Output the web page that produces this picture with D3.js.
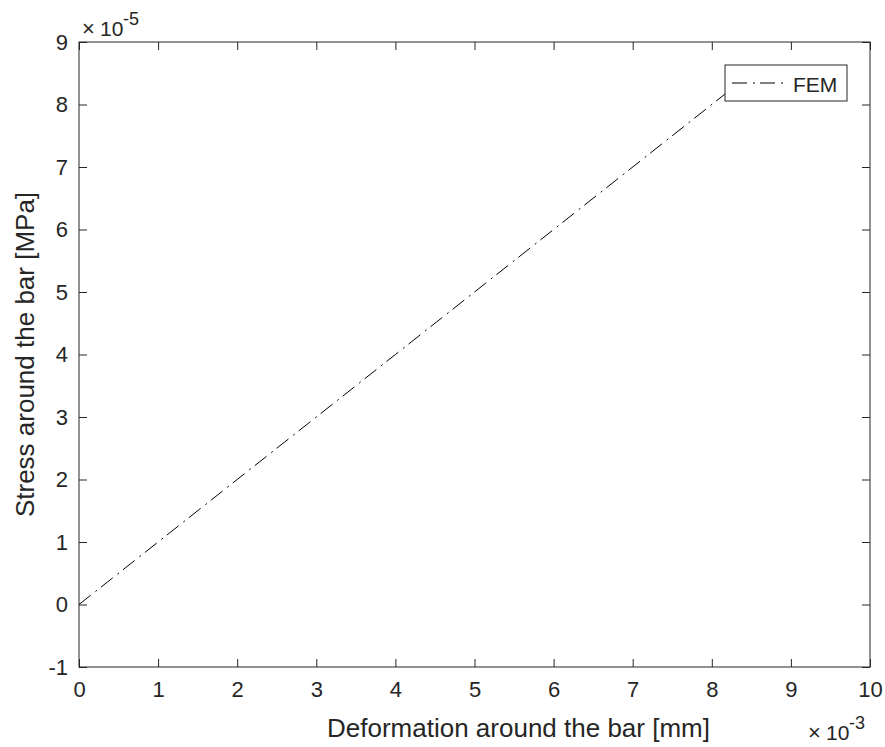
<!DOCTYPE html>
<meta charset="utf-8">
<script src="https://d3js.org/d3.v7.min.js"></script>
<style>
body { margin: 0; background: #fff; }
text { font-family: "Liberation Sans", Arial, sans-serif; fill: #262626; }
</style>
<body>
</body>
<script>
  // FEM result, stress vs deformation
  var deformation = [0, 0.002, 0.004, 0.006, 0.0085];
  var stress = [0, 0.00002, 0.00004, 0.00006, 0.000085];
  var seriesName = "FEM";
  var xTicks = [0, 1, 2, 3, 4, 5, 6, 7, 8, 9, 10];
  var yTicks = [-1, 0, 1, 2, 3, 4, 5, 6, 7, 8, 9];

  var data = deformation.map(function(d, i) { return {x: d * 1e3, y: stress[i] * 1e5}; });

  var W = 885, H = 747;
  var margin = {top: 42, right: 15, bottom: 80, left: 79};
  var width = W - margin.left - margin.right,
      height = H - margin.top - margin.bottom;

  var svg = d3.select("body").append("svg")
      .attr("width", W)
      .attr("height", H);

  var g = svg.append("g")
      .attr("transform", "translate(" + margin.left + "," + margin.top + ")");

  var xScale = d3.scaleLinear().domain([0, 10]).range([0, width]);
  var yScale = d3.scaleLinear().domain([-1, 9]).range([height, 0]);

  var axisColor = "#262626";
  var fmt = function(d) { return String(d); }; // plain hyphen minus like matlab

  // box
  g.append("rect")
    .attr("width", width).attr("height", height)
    .attr("fill", "none").attr("stroke", axisColor).attr("stroke-width", 1);

  var xAxis = d3.axisBottom(xScale).tickValues(xTicks).tickSize(-8).tickPadding(14).tickFormat(fmt);
  var yAxis = d3.axisLeft(yScale).tickValues(yTicks).tickSize(-8).tickPadding(11).tickFormat(fmt);
  var xTop = d3.axisTop(xScale).tickValues(xTicks).tickSize(-8).tickFormat("");
  var yRight = d3.axisRight(yScale).tickValues(yTicks).tickSize(-8).tickFormat("");

  function style(sel) {
    sel.select(".domain").remove();
    sel.selectAll("line").attr("stroke", axisColor);
    sel.selectAll("text").attr("font-size", 22).attr("fill", axisColor)
      .style("font-family", '"Liberation Sans", Arial, sans-serif');
  }

  g.append("g").attr("transform", "translate(0," + height + ")").call(xAxis).call(style);
  g.append("g").call(yAxis).call(style);
  g.append("g").call(xTop).call(style);
  g.append("g").attr("transform", "translate(" + width + ",0)").call(yRight).call(style);

  // line
  var line = d3.line()
    .x(function(d) { return xScale(d.x); })
    .y(function(d) { return yScale(d.y); });

  g.append("path")
    .datum(data)
    .attr("d", line)
    .attr("fill", "none")
    .attr("stroke", "#000")
    .attr("stroke-width", 1)
    .attr("stroke-dasharray", "15,6,2,5");

  // axis labels
  svg.append("text")
    .attr("x", 327)
    .attr("y", 737)
    .attr("font-size", 26)
    .text("Deformation around the bar [mm]");

  svg.append("text")
    .attr("transform", "translate(34," + (margin.top + height / 2) + ") rotate(-90)")
    .attr("text-anchor", "middle")
    .attr("font-size", 26)
    .text("Stress around the bar [MPa]");

  // exponent labels
  function expLabel(x, y, p) {
    svg.append("text").attr("x", x).attr("y", y).attr("font-size", 22).text("\u00d7");
    svg.append("text").attr("x", x + 18).attr("y", y).attr("font-size", 21).text("10");
    svg.append("text").attr("x", x + 41).attr("y", y - 11).attr("font-size", 18).text(p);
  }
  expLabel(82, 36, "-5");
  expLabel(808, 740, "-3");

  // legend
  var lg = g.append("g").attr("transform", "translate(" + (725 - margin.left) + "," + (65 - margin.top) + ")");
  lg.append("rect").attr("width", 122).attr("height", 36)
    .attr("fill", "#fff").attr("stroke", axisColor).attr("stroke-width", 1);
  lg.append("line").attr("x1", 7).attr("x2", 60).attr("y1", 18).attr("y2", 18)
    .attr("stroke", "#000").attr("stroke-width", 1).attr("stroke-dasharray", "15,6,2,5");
  lg.append("text").attr("x", 68).attr("y", 27).attr("font-size", 21).text(seriesName);
</script>
